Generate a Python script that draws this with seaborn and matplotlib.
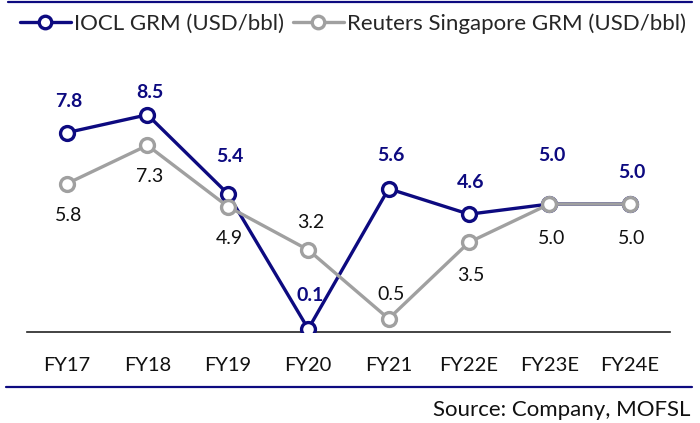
import numpy as np
import pandas as pd
import matplotlib
matplotlib.use('Agg')
import matplotlib.pyplot as plt
import seaborn as sns
from matplotlib.lines import Line2D

##################################################################
years = ['FY17', 'FY18', 'FY19', 'FY20', 'FY21', 'FY22E', 'FY23E', 'FY24E']
iocl_grm = [7.8, 8.5, 5.4, 0.1, 5.6, 4.6, 5.0, 5.0]
reuters_grm = [5.8, 7.3, 4.9, 3.2, 0.5, 3.5, 5.0, 5.0]
iocl_name = 'IOCL GRM (USD/bbl)'
reuters_name = 'Reuters Singapore GRM (USD/bbl)'
##################################################################

navy = '#0d0a80'
grey = '#a0a0a0'
fz = 14

sns.set_theme(style='white')
plt.rcParams['font.family'] = ['Lato', 'DejaVu Sans']

df = pd.DataFrame({'year': years * 2,
                   'grm': iocl_grm + reuters_grm,
                   'series': [iocl_name] * len(years) + [reuters_name] * len(years)})

fig = plt.figure(figsize=[7.0, 4.23], dpi=100)
ax = fig.add_axes([0.0383, 0.2163, 0.919, 0.5727])

line_kw = dict(linewidth=2.4, marker='o', markersize=10, markerfacecolor='white',
               markeredgewidth=2.4)
sns.lineplot(data=df[df.series == iocl_name], x='year', y='grm', ax=ax, color=navy,
             markeredgecolor=navy, legend=False, sort=False, **line_kw)
sns.lineplot(data=df[df.series == reuters_name], x='year', y='grm', ax=ax, color=grey,
             markeredgecolor=grey, legend=False, sort=False, **line_kw)

# data labels (offsets in pixels)
iocl_off = [31, 22, 37, 33, 33, 32, 49, 32]
grey_off = [-32, -31, -32, 27, 24, -33, -34, -34]
for i, (v, o) in enumerate(zip(iocl_grm, iocl_off)):
    ax.annotate('%.1f' % v, (i, v), xytext=(2, o), textcoords='offset pixels',
                ha='center', va='center', fontsize=fz, fontweight='bold', color=navy)
for i, (v, o) in enumerate(zip(reuters_grm, grey_off)):
    ax.annotate('%.1f' % v, (i, v), xytext=(2, o), textcoords='offset pixels',
                ha='center', va='center', fontsize=fz, color='#111111')

ax.set_xlim(-0.5, len(years) - 0.5)
ax.set_ylim(0, 9.5)
ax.set_xlabel('')
ax.set_ylabel('')
ax.set_yticks([])
ax.tick_params(axis='x', length=0, labelsize=14.5, pad=18, colors='#111111')
for s in ['top', 'right', 'left']:
    ax.spines[s].set_visible(False)
ax.spines['bottom'].set_color('#222222')
ax.spines['bottom'].set_linewidth(1.2)
ax.spines['bottom'].set_zorder(0)

handles = [Line2D([], [], color=navy, **line_kw, markeredgecolor=navy),
           Line2D([], [], color=grey, **line_kw, markeredgecolor=grey)]
for h in handles:
    h.set_markersize(9)
fig.legend(handles, [iocl_name, reuters_name], loc='center left', bbox_to_anchor=(0.028, 0.944),
           ncol=2, frameon=False, fontsize=16, handlelength=2.3, handletextpad=0.15,
           columnspacing=0.4, borderaxespad=0, borderpad=0)

# frame lines and source
fig.add_artist(Line2D([0.011, 0.989], [0.995, 0.995], color=navy, linewidth=1.6))
fig.add_artist(Line2D([0.009, 0.989], [0.085, 0.085], color=navy, linewidth=1.6))
fig.text(0.986, 0.030, 'Source: Company, MOFSL', ha='right', va='center', fontsize=16,
         color='#111111')

plt.savefig('out.png', dpi=100)
